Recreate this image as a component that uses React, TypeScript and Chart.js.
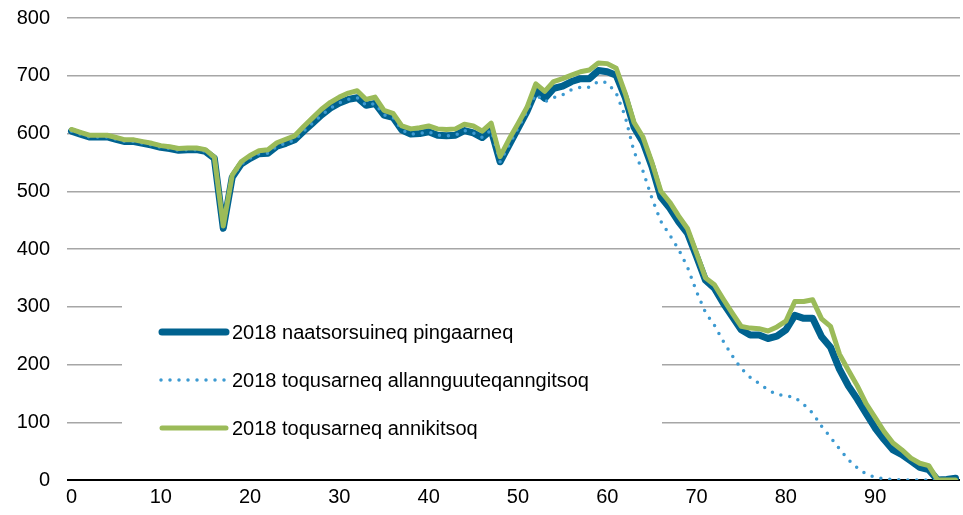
import React, { useEffect, useRef } from "react";
import { Chart, registerables } from "chart.js";

Chart.register(...registerables);

const ages: number[] = Array.from({ length: 100 }, (_, i) => i);
const xTickLabels = ["0", "10", "20", "30", "40", "50", "60", "70", "80", "90"];
const yTicks = [0, 100, 200, 300, 400, 500, 600, 700, 800];

const seriesNames = [
  "2018 naatsorsuineq pingaarneq",
  "2018 toqusarneq allannguuteqanngitsoq",
  "2018 toqusarneq annikitsoq",
];

const mainValues = [
  604, 599, 594, 594, 594, 590, 586, 586, 583, 580,
  576, 574, 571, 572, 572, 569, 557, 436, 524, 547,
  557, 565, 566, 578, 583, 589, 604, 618, 632, 644,
  653, 659, 662, 649, 652, 632, 628, 606, 599, 600,
  603, 597, 596, 597, 605, 601, 593, 606, 551, 580,
  609, 638, 674, 661, 678, 682, 690, 695, 695, 709,
  707, 701, 663, 611, 585, 543, 490, 471, 447, 427,
  387, 346, 332, 306, 283, 260, 251, 251, 245, 249,
  260, 285, 280, 280, 248, 230, 192, 163, 140, 115,
  90, 70, 52, 44, 33, 22, 18, 0, 1, 3,
];

const constantMortality = [
  604, 599, 594, 594, 594, 590, 586, 586, 583, 580,
  576, 574, 571, 572, 572, 569, 557, 436, 524, 547,
  557, 565, 566, 578, 583, 589, 604, 618, 632, 644,
  653, 659, 662, 649, 652, 632, 628, 606, 599, 600,
  603, 597, 596, 597, 605, 601, 593, 606, 551, 580,
  609, 638, 668, 655, 662, 667, 676, 680, 680, 690,
  688, 670, 630, 568, 535, 488, 448, 424, 399, 368,
  326, 290, 268, 240, 215, 193, 178, 167, 156, 148,
  146, 143, 131, 116, 93, 74, 54, 35, 21, 10,
  5, 2, 1, 0, 0, 0, 0, 0, 0, 0,
];

const lowMortality = [
  607, 602, 597, 597, 597, 593, 589, 589, 586, 583,
  579, 577, 574, 575, 575, 572, 559, 440, 528, 551,
  562, 570, 572, 584, 590, 596, 612, 627, 642, 654,
  663, 670, 674, 659, 663, 640, 635, 613, 608, 610,
  613, 608, 607, 608, 616, 613, 604, 618, 560, 590,
  617, 645, 686, 673, 690, 695, 701, 707, 710, 722,
  721, 713, 670, 619, 594, 550, 500, 481, 457, 435,
  393, 350, 338, 313, 289, 266, 263, 262, 258, 265,
  275, 309, 309, 312, 279, 266, 218, 190, 163, 132,
  108, 84, 64, 52, 38, 29, 25, 0, 0, 0,
];

const FONT = "'Liberation Sans', Arial, sans-serif";

const legendBoxPlugin = {
  id: "legendBox",
  beforeDatasetsDraw(chart: any) {
    const ctx = chart.ctx;
    ctx.save();
    ctx.fillStyle = "#ffffff";
    ctx.fillRect(122, 304, 540, 160);
    const rows = [332, 380, 428];
    chart.data.datasets.forEach((ds: any, i: number) => {
      const y = rows[i];
      ctx.beginPath();
      ctx.strokeStyle = ds.borderColor;
      ctx.lineWidth = ds.borderWidth;
      ctx.lineCap = "round";
      ctx.setLineDash(ds.borderDash || []);
      ctx.moveTo(ds.borderDash ? 161 : 162, y);
      ctx.lineTo(226, y);
      ctx.stroke();
      ctx.setLineDash([]);
      ctx.fillStyle = "#000000";
      ctx.font = `20px ${FONT}`;
      ctx.textBaseline = "middle";
      ctx.textAlign = "left";
      ctx.fillText(ds.label, 232, y + 1);
    });
    ctx.restore();
  },
};

export default function App() {
  const ref = useRef<HTMLCanvasElement | null>(null);
  useEffect(() => {
    document.body.style.margin = "0";
    if (!ref.current) return;
    const chart = new Chart(ref.current, {
      type: "line",
      data: {
        labels: ages,
        datasets: [
          {
            label: seriesNames[0],
            data: mainValues,
            borderColor: "#00628F",
            borderWidth: 7,
            pointRadius: 0,
            tension: 0,
            borderJoinStyle: "round",
            borderCapStyle: "round",
            order: 3,
          },
          {
            label: seriesNames[1],
            data: constantMortality,
            borderColor: "#3D9AD1",
            borderWidth: 3.5,
            borderDash: [0, 9],
            borderCapStyle: "round",
            pointRadius: 0,
            tension: 0,
            order: 2,
          },
          {
            label: seriesNames[2],
            data: lowMortality,
            borderColor: "#9BBB59",
            borderWidth: 5,
            pointRadius: 0,
            tension: 0,
            borderJoinStyle: "round",
            borderCapStyle: "round",
            order: 1,
          },
        ],
      },
      options: {
        animation: false,
        responsive: false,
        maintainAspectRatio: false,
        layout: { autoPadding: false, padding: { top: 18, right: 3, left: 0, bottom: 0 } },
        plugins: {
          legend: { display: false },
          tooltip: { enabled: false },
        },
        scales: {
          x: {
            type: "category",
            offset: true,
            grid: { display: false, drawTicks: false },
            border: { display: false },
            afterFit: (s: any) => {
              s.height = 35;
              s.paddingLeft = 0;
              s.paddingRight = 0;
            },
            ticks: {
              autoSkip: false,
              maxRotation: 0,
              padding: 5,
              color: "#000",
              font: { family: FONT, size: 20 },
              callback: (v: any, i: number) => {
                const l = String(ages[i]);
                return xTickLabels.includes(l) ? l : "";
              },
            },
          },
          y: {
            min: 0,
            max: 800,
            afterFit: (s: any) => {
              s.width = 67;
              s.paddingTop = 0;
              s.paddingBottom = 0;
            },
            afterBuildTicks: (s: any) => {
              s.ticks = yTicks.map((v) => ({ value: v }));
            },
            border: { display: false },
            grid: {
              drawTicks: false,
              color: (c: any) => (c.tick && c.tick.value === 0 ? "#000000" : "#A6A6A6"),
              lineWidth: (c: any) => (c.tick && c.tick.value === 0 ? 2 : 1.5),
            },
            ticks: {
              padding: 17,
              color: "#000",
              font: { family: FONT, size: 20 },
            },
          },
        },
      },
      plugins: [legendBoxPlugin],
    });
    return () => chart.destroy();
  }, []);
  return (
    <div style={{ width: 963, height: 515 }}>
      <canvas ref={ref} width={963} height={515} style={{ display: "block" }} />
    </div>
  );
}
